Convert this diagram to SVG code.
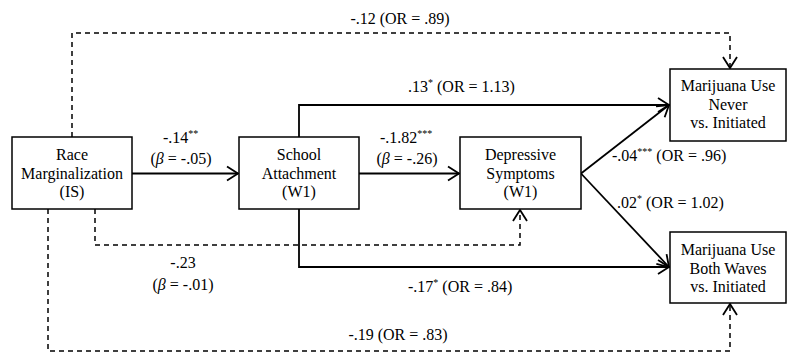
<svg xmlns="http://www.w3.org/2000/svg" width="788" height="356" viewBox="0 0 788 356">
<defs>
<marker id="arr" markerUnits="userSpaceOnUse" markerWidth="14" markerHeight="16" refX="12" refY="8" orient="auto" overflow="visible">
<path d="M1,1 L12,8 L1,15" fill="none" stroke="#000" stroke-width="1.8"/>
</marker>
</defs>
<style>
.box{fill:#fff;stroke:#000;stroke-width:1.5}
text{font-family:'Liberation Serif','DejaVu Serif',serif;font-size:16px;fill:#000}
.t{text-anchor:middle}
.sup{font-size:10px}
.solid{fill:none;stroke:#000;stroke-width:1.8}
.dash{fill:none;stroke:#000;stroke-width:1.5;stroke-dasharray:5,4}
</style>
<rect width="788" height="356" fill="#fff"/>
<g id="connectors">
<path class="dash" d="M72,137 V33 H730 V68" marker-end="url(#arr)"/>
<path class="dash" d="M95,209 V245 H520 V210" marker-end="url(#arr)"/>
<path class="dash" d="M48,209 V351 H730 V304" marker-end="url(#arr)"/>
<path class="solid" d="M132,173.5 H238" marker-end="url(#arr)"/>
<path class="solid" d="M359,173.5 H459" marker-end="url(#arr)"/>
<path class="solid" d="M299,138 V105 H669" marker-end="url(#arr)"/>
<path class="solid" d="M299,209 V267 H669" marker-end="url(#arr)"/>
<path class="solid" d="M581,173.5 L669,105" marker-end="url(#arr)"/>
<path class="solid" d="M581,173.5 L669,267" marker-end="url(#arr)"/>
<text class="t" x="400" y="24">-.12 (OR = .89)</text>
<text x="408" y="92">.13<tspan class="sup" dy="-6">*</tspan><tspan dy="6"> (OR = 1.13)</tspan></text>
<text x="163" y="143">-.14<tspan class="sup" dy="-6">**</tspan></text>
<text class="t" x="181" y="164">(<tspan font-style="italic">β</tspan> = -.05)</text>
<text x="380" y="143">-.1.82<tspan class="sup" dy="-6">***</tspan></text>
<text class="t" x="407" y="164">(<tspan font-style="italic">β</tspan> = -.26)</text>
<text x="612" y="161">-.04<tspan class="sup" dy="-6">***</tspan><tspan dy="6"> (OR = .96)</tspan></text>
<text x="617" y="208">.02<tspan class="sup" dy="-6">*</tspan><tspan dy="6"> (OR = 1.02)</tspan></text>
<text class="t" x="183" y="268">-.23</text>
<text class="t" x="183" y="290">(<tspan font-style="italic">β</tspan> = -.01)</text>
<text x="408" y="292">-.17<tspan class="sup" dy="-6">*</tspan><tspan dy="6"> (OR = .84)</tspan></text>
<text class="t" x="398" y="340">-.19 (OR = .83)</text>
</g>
<g id="race">
<rect class="box" x="12" y="137" width="120" height="72"/>
<text class="t" x="72" y="160">Race</text>
<text class="t" x="72" y="178.5">Marginalization</text>
<text class="t" x="72" y="197">(IS)</text>
</g>
<g id="school">
<rect class="box" x="239" y="137" width="120" height="72"/>
<text class="t" x="299" y="160">School</text>
<text class="t" x="299" y="178.5">Attachment</text>
<text class="t" x="299" y="197">(W1)</text>
</g>
<g id="depressive">
<rect class="box" x="460" y="137" width="121" height="72"/>
<text class="t" x="520.5" y="160">Depressive</text>
<text class="t" x="520.5" y="178.5">Symptoms</text>
<text class="t" x="520.5" y="197">(W1)</text>
</g>
<g id="never">
<rect class="box" x="670" y="69" width="116" height="72"/>
<text class="t" x="728" y="91">Marijuana Use</text>
<text class="t" x="728" y="109.5">Never</text>
<text class="t" x="728" y="128">vs. Initiated</text>
</g>
<g id="both">
<rect class="box" x="670" y="232" width="116" height="71"/>
<text class="t" x="728" y="255">Marijuana Use</text>
<text class="t" x="728" y="273.5">Both Waves</text>
<text class="t" x="728" y="292">vs. Initiated</text>
</g>
</svg>
